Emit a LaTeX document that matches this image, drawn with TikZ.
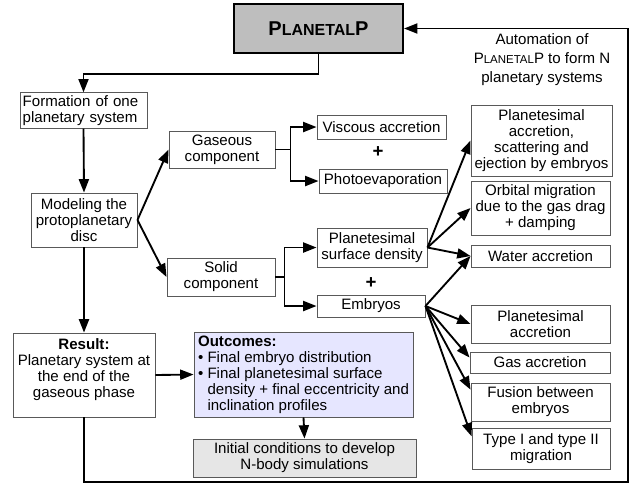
\documentclass[tikz,border=0pt]{standalone}
\usepackage{fontspec}
\setmainfont{Liberation Sans}
\usepackage{tikz}
\usetikzlibrary{arrows.meta}

\definecolor{titlefill}{RGB}{190,190,190}
\definecolor{outfill}{RGB}{230,230,255}
\definecolor{initfill}{RGB}{230,230,230}
\newcommand{\planetalp}{P{\fontsize{8.6}{10}\selectfont LANETAL}P}

\begin{document}
\begin{tikzpicture}[x=0.75pt,y=-0.75pt,font=\fontsize{11.3}{12}\selectfont]
		\useasboundingbox (0,0) rectangle (641,487);
		\begin{scope}[every node/.style={draw=black!65,line width=0.7pt,align=center,inner sep=2pt}]
			\node (title) at (318.5,28.5) [draw=black,line width=1.5pt,fill=titlefill,minimum width=126.75pt,minimum height=36.75pt]
				{\bfseries\fontsize{15}{15}\selectfont P{\fontsize{12}{12}\selectfont LANETAL}P};

			\node (form) at (83.5,110.5) [align=left,text width=91.25pt,minimum height=26.25pt] {Formation of one\\planetary system};
			\node (model) at (84,220) [minimum width=79.5pt,minimum height=40.5pt] {Modeling the\\protoplanetary\\disc};
			\node (result) at (84,375) [minimum width=106.5pt,minimum height=63pt] {\textbf{Result:}\\Planetary system at\\the end of the\\gaseous phase\\[-2pt]\mbox{}};

			\node (gas) at (222,149.5) [minimum width=79.5pt,minimum height=27.75pt] {Gaseous\\component};
			\node (solid) at (221,277) [minimum width=81pt,minimum height=28.5pt] {Solid\\component};

			\node (visc) at (381.5,127) [minimum width=96.75pt,minimum height=18pt] {Viscous accretion};
			\node (photo) at (383,181) [minimum width=96pt,minimum height=18pt] {Photoevaporation};
			\node (psd) at (372,247.5) [minimum width=82.5pt,minimum height=29.25pt] {Planetesimal\\surface density};
			\node (embr) at (371,306) [minimum width=81pt,minimum height=16.5pt] {Embryos};

			\node (pscat) at (541.5,140.5) [minimum width=105.75pt,minimum height=53.25pt] {Planetesimal\\accretion,\\scattering and\\ejection by embryos};
			\node (orbit) at (540.5,208) [minimum width=104.25pt,minimum height=40.5pt] {Orbital migration\\due to the gas drag\\+ damping};
			\node (water) at (540.5,256) [minimum width=104.25pt,minimum height=16.5pt] {Water accretion};
			\node (pacc) at (540.5,324) [minimum width=104.25pt,minimum height=28.5pt] {Planetesimal\\accretion};
			\node (gasacc) at (540,362.5) [minimum width=105pt,minimum height=15.75pt] {Gas accretion};
			\node (fusion) at (540.5,402) [minimum width=104.25pt,minimum height=28.5pt] {Fusion between\\embryos};
			\node (mig) at (541,448.5) [minimum width=103.5pt,minimum height=30.75pt] {Type I and type II\\migration};

			\node (outc) at (303.5,374.5) [fill=outfill,align=left,minimum width=164.25pt,minimum height=63.75pt]
				{\textbf{Outcomes:}\\\textbullet\ Final embryo distribution\\\textbullet\ Final planetesimal surface\\\phantom{\textbullet\ }density + final eccentricity and\\\phantom{\textbullet\ }inclination profiles};
			\node (init) at (304.5,458) [fill=initfill,minimum width=167.25pt,minimum height=28.5pt] {Initial conditions to develop\\N-body simulations};
		\end{scope}

		\node (plusa) at (378,152) {\bfseries\fontsize{14}{14}\selectfont +};
		\node (plusb) at (371,283) {\bfseries\fontsize{14}{14}\selectfont +};
		\node (autolbl) at (542,60) [align=center,font=\fontsize{11.3}{14.25}\selectfont] {Automation of\\\planetalp{} to form N\\planetary systems};
		\coordinate (loopcorner) at (628,482);

		\begin{scope}[>={Triangle[black,length=10pt,width=7.5pt]},
					  line width=1.4pt,
					  every edge/.style={draw=black}]
			\draw [->] (title.south) -- ++(0,20) -| (form.north);
			\path [->] (form.south) edge (model.north);
			\path [->] (model.east) edge (gas.west);
			\path [->] (model.east) edge (solid.west);
			\path [->] (model.south) edge (result.north);

			\draw [->] (gas.east) -- ++(15,0) |- (visc.west);
			\draw [->] (gas.east) -- ++(15,0) |- (photo.west);
			\draw [->] (solid.east) -- ++(9,0) |- (psd.west);
			\draw [->] (solid.east) -- ++(9,0) |- (embr.west);

			\path [->] (psd.east) edge (pscat.west);
			\path [->] (psd.east) edge (orbit.west);
			\path [->] (psd.east) edge (water.west);

			\path [->] (embr.east) edge (water.west);
			\path [->] (embr.east) edge (pacc.west);
			\path [->] (embr.east) edge (gasacc.176);
			\path [->] (embr.east) edge (fusion.170);
			\path [->] (embr.east) edge (mig.170);

			\path [->] (result.east) edge (outc.west);
			\path [->] (outc.south) edge (init.north);
			% loop back to the top
			\draw [->] (result.south) |- (loopcorner) |- (title.east);
		\end{scope}
\end{tikzpicture}
\end{document}
